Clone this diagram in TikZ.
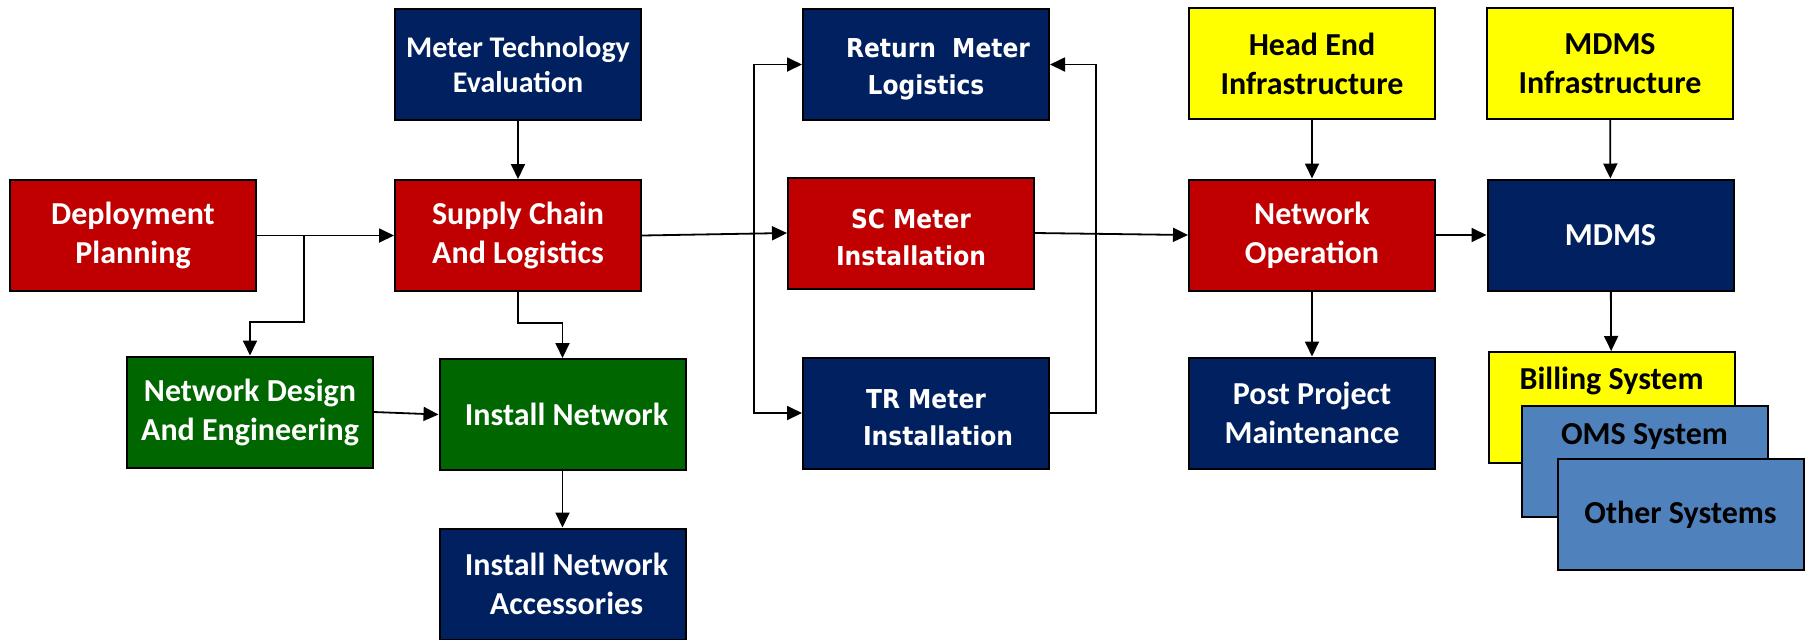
\documentclass[tikz,border=0pt]{standalone}
\usepackage{fontspec}
\setmainfont{Carlito}
\newfontfamily\widefont{DejaVu Sans Condensed}
\usepackage{xcolor}
\usepackage{tikz}
\usetikzlibrary{arrows.meta,positioning}
\definecolor{boxred}{HTML}{C00000}
\definecolor{boxnavy}{HTML}{002060}
\definecolor{boxgreen}{HTML}{006600}
\definecolor{boxyellow}{HTML}{FFFF00}
\definecolor{boxsteel}{HTML}{4F81BD}

\begin{document}
\begin{tikzpicture}[
    x=0.5pt, y=-0.5pt,
    block/.style={
        rectangle,
        draw=black,
        line width=1pt,
        align=center,
        minimum width=123pt,
        minimum height=55.5pt,
        inner sep=2pt,
        font=\fontsize{16}{19.5}\selectfont\bfseries
    },
    redbox/.style={block, fill=boxred, text=white},
    navybox/.style={block, fill=boxnavy, text=white},
    greenbox/.style={block, fill=boxgreen, text=white},
    yellowbox/.style={block, fill=boxyellow, text=black},
    steelbox/.style={block, fill=boxsteel, text=black},
    wide/.style={font=\fontsize{13}{18.5}\selectfont\widefont\bfseries},
    systext/.style={font=\fontsize{16}{19.5}\selectfont\bfseries, inner sep=2pt},
    arrow/.style={-{Triangle[length=7.5pt,width=7pt]}, line width=0.9pt}
]
    \useasboundingbox (0,0) rectangle (1810,639);

    % planning and supply
    \node[redbox] (plan) at (133,235.5) {Deployment\\Planning};
    \node[navybox, font=\fontsize{15}{17.6}\selectfont\bfseries] (mte) at (518,64.5) {Meter Technology\\Evaluation};
    \node[redbox] (supply) at (518,235.5) {Supply Chain\\And Logistics};
    \node[greenbox] (design) at (250,412) {Network Design\\And Engineering};
    \node[greenbox] (install) at (562.5,414.5) {\hspace{4pt}Install Network};
    \node[navybox] (access) at (562.5,584) {\hspace{4pt}Install Network\\\hspace{4pt}Accessories};

    % meters
    \node[navybox, wide] (ret) at (926,64.5) {\rule{0pt}{14pt}\hspace{12pt}Return\ \ Meter\\Logistics};
    \node[redbox, wide] (sc) at (911,233) {\rule{0pt}{14pt}SC Meter\\Installation};
    \node[navybox, wide] (tr) at (926,413) {\rule{0pt}{14pt}TR Meter\\\hspace{12pt}Installation};

    % network side
    \node[yellowbox] (head) at (1312,63.5) {Head End\\Infrastructure};
    \node[redbox] (netop) at (1312,235) {Network\\Operation};
    \node[navybox] (post) at (1312,413) {Post Project\\Maintenance};
    \node[yellowbox] (mdmsinf) at (1610,63.5) {MDMS\\Infrastructure};
    \node[navybox] (mdms) at (1610.5,235) {MDMS};

    % stacked systems
    \node[yellowbox] (billing) at (1611.5,407.5) {};
    \node[systext, below=6pt of billing.north] (billingtxt) {Billing System};
    \node[steelbox] (oms) at (1644.5,461.5) {};
    \node[systext, below=7pt of oms.north] (omstxt) {OMS System};
    \node[steelbox] (other) at (1680.5,514.5) {Other Systems};

    \coordinate (split1) at (304,235.5);
    \coordinate (split2) at (754,234);

    \draw[arrow] (plan.east) -- (supply.west);
    \draw[arrow] (split1) -- ++(0,86.5) -| (design.north);
    \draw[arrow] (mte) -- (supply);
    \draw[arrow] (supply.south) -- ++(0,31) -| (install.north);
    \draw[arrow] (design.east) -- (install.west);
    \draw[arrow] (install) -- (access);
    \draw[arrow] (supply.east) -- (sc.west);
    \draw[arrow] (split2) |- (ret.west);
    \draw[arrow] (split2) |- (tr.west);
    \draw[arrow] (tr.east) -- ++(46,0) |- (ret.east);
    \draw[arrow] (sc.east) -- (netop.west);
    \draw[arrow] (head) -- (netop);
    \draw[arrow] (netop) -- (post);
    \draw[arrow] (netop) -- (mdms);
    \draw[arrow] (mdmsinf) -- (mdms);
    \draw[arrow] (mdms) -- (billing);
\end{tikzpicture}
\end{document}
